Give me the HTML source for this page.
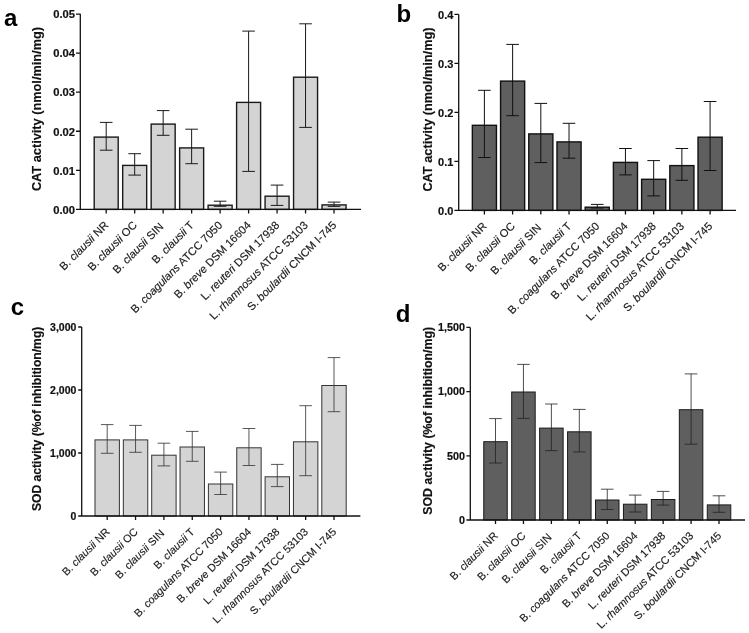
<!DOCTYPE html>
<html><head><meta charset="utf-8"><style>
html,body{margin:0;padding:0;background:#fff;width:749px;height:633px;overflow:hidden}
svg{display:block;filter:grayscale(1)}
text{font-family:"Liberation Sans",sans-serif;fill:#111}
.tk{font-weight:bold;stroke:#111;stroke-width:0.2px}
.xl{fill:#1a1a1a;stroke:#1a1a1a;stroke-width:0.15px}
.tt{font-weight:bold;stroke:#111;stroke-width:0.15px}
.lt{font-weight:bold;fill:#000}
</style></head><body>
<svg width="749" height="633" viewBox="0 0 749 633">
<rect width="749" height="633" fill="#fff"/>
<g><rect x="94.2" y="137.1" width="24" height="72.3" fill="#d4d4d4" stroke="#1a1a1a" stroke-width="1.4"/><rect x="122.68" y="165.4" width="24" height="44" fill="#d4d4d4" stroke="#1a1a1a" stroke-width="1.4"/><rect x="151.16" y="124.1" width="24" height="85.3" fill="#d4d4d4" stroke="#1a1a1a" stroke-width="1.4"/><rect x="179.64" y="147.9" width="24" height="61.5" fill="#d4d4d4" stroke="#1a1a1a" stroke-width="1.4"/><rect x="208.12" y="205.2" width="24" height="4.2" fill="#d4d4d4" stroke="#1a1a1a" stroke-width="1.4"/><rect x="236.6" y="102.4" width="24" height="107" fill="#d4d4d4" stroke="#1a1a1a" stroke-width="1.4"/><rect x="265.08" y="196.2" width="24" height="13.2" fill="#d4d4d4" stroke="#1a1a1a" stroke-width="1.4"/><rect x="293.56" y="77.2" width="24" height="132.2" fill="#d4d4d4" stroke="#1a1a1a" stroke-width="1.4"/><rect x="322.04" y="204.9" width="24" height="4.5" fill="#d4d4d4" stroke="#1a1a1a" stroke-width="1.4"/><path d="M106.2 122.4V150.2M99.9 122.4H112.5M99.9 150.2H112.5" stroke="#1a1a1a" stroke-width="1.0" fill="none"/><path d="M134.68 153.7V175.1M128.38 153.7H140.98M128.38 175.1H140.98" stroke="#1a1a1a" stroke-width="1.0" fill="none"/><path d="M163.16 110.6V135.3M156.86 110.6H169.46M156.86 135.3H169.46" stroke="#1a1a1a" stroke-width="1.0" fill="none"/><path d="M191.64 129.2V163.7M185.34 129.2H197.94M185.34 163.7H197.94" stroke="#1a1a1a" stroke-width="1.0" fill="none"/><path d="M220.12 201.2V206.3M213.82 201.2H226.42M213.82 206.3H226.42" stroke="#1a1a1a" stroke-width="1.0" fill="none"/><path d="M248.6 31.1V171.4M242.3 31.1H254.9M242.3 171.4H254.9" stroke="#1a1a1a" stroke-width="1.0" fill="none"/><path d="M277.08 185.1V205.4M270.78 185.1H283.38M270.78 205.4H283.38" stroke="#1a1a1a" stroke-width="1.0" fill="none"/><path d="M305.56 23.8V127.4M299.26 23.8H311.86M299.26 127.4H311.86" stroke="#1a1a1a" stroke-width="1.0" fill="none"/><path d="M334.04 202.1V206.4M327.74 202.1H340.34M327.74 206.4H340.34" stroke="#1a1a1a" stroke-width="1.0" fill="none"/><path d="M80.3 13.7V209.4M76 209.4H361M76 209.4H80.3M76 170.33H80.3M76 131.26H80.3M76 92.19H80.3M76 53.12H80.3M76 14.05H80.3M106.2 209.4V213.4M134.68 209.4V213.4M163.16 209.4V213.4M191.64 209.4V213.4M220.12 209.4V213.4M248.6 209.4V213.4M277.08 209.4V213.4M305.56 209.4V213.4M334.04 209.4V213.4" stroke="#111" stroke-width="1.3" fill="none"/><text x="75" y="213.7" text-anchor="end" class="tk" font-size="11.2">0.00</text><text x="75" y="174.63" text-anchor="end" class="tk" font-size="11.2">0.01</text><text x="75" y="135.56" text-anchor="end" class="tk" font-size="11.2">0.02</text><text x="75" y="96.49" text-anchor="end" class="tk" font-size="11.2">0.03</text><text x="75" y="57.42" text-anchor="end" class="tk" font-size="11.2">0.04</text><text x="75" y="18.35" text-anchor="end" class="tk" font-size="11.2">0.05</text><text transform="translate(109.2,225.9) rotate(-45)" text-anchor="end" class="xl" font-size="11.15">B. <tspan font-style="italic">clausii</tspan> NR</text><text transform="translate(137.68,225.9) rotate(-45)" text-anchor="end" class="xl" font-size="11.15">B. <tspan font-style="italic">clausii</tspan> OC</text><text transform="translate(164.16,227.4) rotate(-45)" text-anchor="end" class="xl" font-size="11.15">B. <tspan font-style="italic">clausii</tspan> SIN</text><text transform="translate(194.64,225.9) rotate(-45)" text-anchor="end" class="xl" font-size="11.15">B. <tspan font-style="italic">clausii</tspan> T</text><text transform="translate(223.12,225.9) rotate(-45)" text-anchor="end" class="xl" font-size="11.15">B. <tspan font-style="italic">coagulans</tspan> ATCC 7050</text><text transform="translate(251.6,225.9) rotate(-45)" text-anchor="end" class="xl" font-size="11.15">B. <tspan font-style="italic">breve</tspan> DSM 16604</text><text transform="translate(280.08,225.9) rotate(-45)" text-anchor="end" class="xl" font-size="11.15">L. <tspan font-style="italic">reuteri</tspan> DSM 17938</text><text transform="translate(308.56,225.9) rotate(-45)" text-anchor="end" class="xl" font-size="11.15">L. <tspan font-style="italic">rhamnosus</tspan> ATCC 53103</text><text transform="translate(337.04,225.9) rotate(-45)" text-anchor="end" class="xl" font-size="11.15">S. <tspan font-style="italic">boulardii</tspan> CNCM I-745</text><text transform="translate(41,109.05) rotate(-90)" text-anchor="middle" class="tt" font-size="12.75">CAT activity (nmol/min/mg)</text><text x="3.95" y="25.9" class="lt" font-size="24">a</text></g>
<g><rect x="472.35" y="125.3" width="24.1" height="85.1" fill="#5f5f5f" stroke="#111" stroke-width="1.4"/><rect x="500.56" y="81.1" width="24.1" height="129.3" fill="#5f5f5f" stroke="#111" stroke-width="1.4"/><rect x="528.77" y="133.9" width="24.1" height="76.5" fill="#5f5f5f" stroke="#111" stroke-width="1.4"/><rect x="556.98" y="141.9" width="24.1" height="68.5" fill="#5f5f5f" stroke="#111" stroke-width="1.4"/><rect x="585.19" y="207.2" width="24.1" height="3.2" fill="#5f5f5f" stroke="#111" stroke-width="1.4"/><rect x="613.4" y="162.4" width="24.1" height="48" fill="#5f5f5f" stroke="#111" stroke-width="1.4"/><rect x="641.61" y="179.3" width="24.1" height="31.1" fill="#5f5f5f" stroke="#111" stroke-width="1.4"/><rect x="669.82" y="165.6" width="24.1" height="44.8" fill="#5f5f5f" stroke="#111" stroke-width="1.4"/><rect x="698.03" y="137.2" width="24.1" height="73.2" fill="#5f5f5f" stroke="#111" stroke-width="1.4"/><path d="M484.4 90.3V157.5M478.1 90.3H490.7M478.1 157.5H490.7" stroke="#111" stroke-width="1.0" fill="none"/><path d="M512.61 44.4V115.7M506.31 44.4H518.91M506.31 115.7H518.91" stroke="#111" stroke-width="1.0" fill="none"/><path d="M540.82 103.4V162.6M534.52 103.4H547.12M534.52 162.6H547.12" stroke="#111" stroke-width="1.0" fill="none"/><path d="M569.03 123.3V158.2M562.73 123.3H575.33M562.73 158.2H575.33" stroke="#111" stroke-width="1.0" fill="none"/><path d="M597.24 204.4V208M590.94 204.4H603.54M590.94 208H603.54" stroke="#111" stroke-width="1.0" fill="none"/><path d="M625.45 148.5V174.9M619.15 148.5H631.75M619.15 174.9H631.75" stroke="#111" stroke-width="1.0" fill="none"/><path d="M653.66 160.6V195.9M647.36 160.6H659.96M647.36 195.9H659.96" stroke="#111" stroke-width="1.0" fill="none"/><path d="M681.87 148.5V180.3M675.57 148.5H688.17M675.57 180.3H688.17" stroke="#111" stroke-width="1.0" fill="none"/><path d="M710.08 101.5V170.5M703.78 101.5H716.38M703.78 170.5H716.38" stroke="#111" stroke-width="1.0" fill="none"/><path d="M458.7 14.4V210.4M454.4 210.4H736M454.4 210.4H458.7M454.4 161.4H458.7M454.4 112.4H458.7M454.4 63.4H458.7M454.4 14.4H458.7M484.4 210.4V214.4M512.61 210.4V214.4M540.82 210.4V214.4M569.03 210.4V214.4M597.24 210.4V214.4M625.45 210.4V214.4M653.66 210.4V214.4M681.87 210.4V214.4M710.08 210.4V214.4" stroke="#111" stroke-width="1.3" fill="none"/><text x="453.4" y="214.5" text-anchor="end" class="tk" font-size="11">0.0</text><text x="453.4" y="165.5" text-anchor="end" class="tk" font-size="11">0.1</text><text x="453.4" y="116.5" text-anchor="end" class="tk" font-size="11">0.2</text><text x="453.4" y="67.5" text-anchor="end" class="tk" font-size="11">0.3</text><text x="453.4" y="18.5" text-anchor="end" class="tk" font-size="11">0.4</text><text transform="translate(487.4,226.9) rotate(-45)" text-anchor="end" class="xl" font-size="11.15">B. <tspan font-style="italic">clausii</tspan> NR</text><text transform="translate(515.61,226.9) rotate(-45)" text-anchor="end" class="xl" font-size="11.15">B. <tspan font-style="italic">clausii</tspan> OC</text><text transform="translate(541.82,228.4) rotate(-45)" text-anchor="end" class="xl" font-size="11.15">B. <tspan font-style="italic">clausii</tspan> SIN</text><text transform="translate(572.03,226.9) rotate(-45)" text-anchor="end" class="xl" font-size="11.15">B. <tspan font-style="italic">clausii</tspan> T</text><text transform="translate(600.24,226.9) rotate(-45)" text-anchor="end" class="xl" font-size="11.15">B. <tspan font-style="italic">coagulans</tspan> ATCC 7050</text><text transform="translate(628.45,226.9) rotate(-45)" text-anchor="end" class="xl" font-size="11.15">B. <tspan font-style="italic">breve</tspan> DSM 16604</text><text transform="translate(656.66,226.9) rotate(-45)" text-anchor="end" class="xl" font-size="11.15">L. <tspan font-style="italic">reuteri</tspan> DSM 17938</text><text transform="translate(684.87,226.9) rotate(-45)" text-anchor="end" class="xl" font-size="11.15">L. <tspan font-style="italic">rhamnosus</tspan> ATCC 53103</text><text transform="translate(713.08,226.9) rotate(-45)" text-anchor="end" class="xl" font-size="11.15">S. <tspan font-style="italic">boulardii</tspan> CNCM I-745</text><text transform="translate(431.8,109.55) rotate(-90)" text-anchor="middle" class="tt" font-size="12.75">CAT activity (nmol/min/mg)</text><text x="396.5" y="21.9" class="lt" font-size="24">b</text></g>
<g><rect x="95" y="439.9" width="24.4" height="76.1" fill="#d4d4d4" stroke="#333" stroke-width="1.0"/><rect x="123.35" y="439.9" width="24.4" height="76.1" fill="#d4d4d4" stroke="#333" stroke-width="1.0"/><rect x="151.7" y="455.2" width="24.4" height="60.8" fill="#d4d4d4" stroke="#333" stroke-width="1.0"/><rect x="180.05" y="447" width="24.4" height="69" fill="#d4d4d4" stroke="#333" stroke-width="1.0"/><rect x="208.4" y="484" width="24.4" height="32" fill="#d4d4d4" stroke="#333" stroke-width="1.0"/><rect x="236.75" y="447.8" width="24.4" height="68.2" fill="#d4d4d4" stroke="#333" stroke-width="1.0"/><rect x="265.1" y="476.8" width="24.4" height="39.2" fill="#d4d4d4" stroke="#333" stroke-width="1.0"/><rect x="293.45" y="441.8" width="24.4" height="74.2" fill="#d4d4d4" stroke="#333" stroke-width="1.0"/><rect x="321.8" y="385.5" width="24.4" height="130.5" fill="#d4d4d4" stroke="#333" stroke-width="1.0"/><path d="M107.2 424.6V453.3M100.9 424.6H113.5M100.9 453.3H113.5" stroke="#3a3a3a" stroke-width="0.85" fill="none"/><path d="M135.55 425.4V452.3M129.25 425.4H141.85M129.25 452.3H141.85" stroke="#3a3a3a" stroke-width="0.85" fill="none"/><path d="M163.9 443.2V465.9M157.6 443.2H170.2M157.6 465.9H170.2" stroke="#3a3a3a" stroke-width="0.85" fill="none"/><path d="M192.25 431.4V461.3M185.95 431.4H198.55M185.95 461.3H198.55" stroke="#3a3a3a" stroke-width="0.85" fill="none"/><path d="M220.6 472.1V494.5M214.3 472.1H226.9M214.3 494.5H226.9" stroke="#3a3a3a" stroke-width="0.85" fill="none"/><path d="M248.95 428.5V465.5M242.65 428.5H255.25M242.65 465.5H255.25" stroke="#3a3a3a" stroke-width="0.85" fill="none"/><path d="M277.3 464.4V486.6M271 464.4H283.6M271 486.6H283.6" stroke="#3a3a3a" stroke-width="0.85" fill="none"/><path d="M305.65 405.7V475.7M299.35 405.7H311.95M299.35 475.7H311.95" stroke="#3a3a3a" stroke-width="0.85" fill="none"/><path d="M334 357.6V411.7M327.7 357.6H340.3M327.7 411.7H340.3" stroke="#3a3a3a" stroke-width="0.85" fill="none"/><path d="M81.7 327V516M78.2 516H360.4M78.2 516H81.7M78.2 453H81.7M78.2 390H81.7M78.2 327H81.7M107.2 516V520M135.55 516V520M163.9 516V520M192.25 516V520M220.6 516V520M248.95 516V520M277.3 516V520M305.65 516V520M334 516V520" stroke="#111" stroke-width="1.3" fill="none"/><text x="76.4" y="519.9" text-anchor="end" class="tk" font-size="10.5">0</text><text x="76.4" y="456.9" text-anchor="end" class="tk" font-size="10.5">1,000</text><text x="76.4" y="393.9" text-anchor="end" class="tk" font-size="10.5">2,000</text><text x="76.4" y="330.9" text-anchor="end" class="tk" font-size="10.5">3,000</text><text transform="translate(110.2,532.5) rotate(-45)" text-anchor="end" class="xl" font-size="10.8">B. <tspan font-style="italic">clausii</tspan> NR</text><text transform="translate(138.55,532.5) rotate(-45)" text-anchor="end" class="xl" font-size="10.8">B. <tspan font-style="italic">clausii</tspan> OC</text><text transform="translate(164.9,534) rotate(-45)" text-anchor="end" class="xl" font-size="10.8">B. <tspan font-style="italic">clausii</tspan> SIN</text><text transform="translate(195.25,532.5) rotate(-45)" text-anchor="end" class="xl" font-size="10.8">B. <tspan font-style="italic">clausii</tspan> T</text><text transform="translate(223.6,532.5) rotate(-45)" text-anchor="end" class="xl" font-size="10.8">B. <tspan font-style="italic">coagulans</tspan> ATCC 7050</text><text transform="translate(251.95,532.5) rotate(-45)" text-anchor="end" class="xl" font-size="10.8">B. <tspan font-style="italic">breve</tspan> DSM 16604</text><text transform="translate(280.3,532.5) rotate(-45)" text-anchor="end" class="xl" font-size="10.8">L. <tspan font-style="italic">reuteri</tspan> DSM 17938</text><text transform="translate(308.65,532.5) rotate(-45)" text-anchor="end" class="xl" font-size="10.8">L. <tspan font-style="italic">rhamnosus</tspan> ATCC 53103</text><text transform="translate(337,532.5) rotate(-45)" text-anchor="end" class="xl" font-size="10.8">S. <tspan font-style="italic">boulardii</tspan> CNCM I-745</text><text transform="translate(40.7,418.85) rotate(-90)" text-anchor="middle" class="tt" font-size="12.12">SOD activity (%of inhibition/mg)</text><text x="10.75" y="314.8" class="lt" font-size="24">c</text></g>
<g><rect x="483.75" y="441.7" width="23.5" height="78.3" fill="#5f5f5f" stroke="#1a1a1a" stroke-width="1.0"/><rect x="511.69" y="392" width="23.5" height="128" fill="#5f5f5f" stroke="#1a1a1a" stroke-width="1.0"/><rect x="539.63" y="428.1" width="23.5" height="91.9" fill="#5f5f5f" stroke="#1a1a1a" stroke-width="1.0"/><rect x="567.57" y="431.8" width="23.5" height="88.2" fill="#5f5f5f" stroke="#1a1a1a" stroke-width="1.0"/><rect x="595.51" y="500" width="23.5" height="20" fill="#5f5f5f" stroke="#1a1a1a" stroke-width="1.0"/><rect x="623.45" y="504.2" width="23.5" height="15.8" fill="#5f5f5f" stroke="#1a1a1a" stroke-width="1.0"/><rect x="651.39" y="499.5" width="23.5" height="20.5" fill="#5f5f5f" stroke="#1a1a1a" stroke-width="1.0"/><rect x="679.33" y="409.7" width="23.5" height="110.3" fill="#5f5f5f" stroke="#1a1a1a" stroke-width="1.0"/><rect x="707.27" y="504.9" width="23.5" height="15.1" fill="#5f5f5f" stroke="#1a1a1a" stroke-width="1.0"/><path d="M495.5 418.6V463M489.2 418.6H501.8M489.2 463H501.8" stroke="#222" stroke-width="0.8" fill="none"/><path d="M523.44 364.4V418.4M517.14 364.4H529.74M517.14 418.4H529.74" stroke="#222" stroke-width="0.8" fill="none"/><path d="M551.38 404V450.6M545.08 404H557.68M545.08 450.6H557.68" stroke="#222" stroke-width="0.8" fill="none"/><path d="M579.32 409.4V451.9M573.02 409.4H585.62M573.02 451.9H585.62" stroke="#222" stroke-width="0.8" fill="none"/><path d="M607.26 489.2V509.5M600.96 489.2H613.56M600.96 509.5H613.56" stroke="#222" stroke-width="0.8" fill="none"/><path d="M635.2 495.1V512M628.9 495.1H641.5M628.9 512H641.5" stroke="#222" stroke-width="0.8" fill="none"/><path d="M663.14 491.4V505.1M656.84 491.4H669.44M656.84 505.1H669.44" stroke="#222" stroke-width="0.8" fill="none"/><path d="M691.08 373.9V444.2M684.78 373.9H697.38M684.78 444.2H697.38" stroke="#222" stroke-width="0.8" fill="none"/><path d="M719.02 495.8V512.3M712.72 495.8H725.32M712.72 512.3H725.32" stroke="#222" stroke-width="0.8" fill="none"/><path d="M470.3 327.4V520M466.4 520H745M466.4 520H470.3M466.4 455.8H470.3M466.4 391.6H470.3M466.4 327.4H470.3M495.5 520V524M523.44 520V524M551.38 520V524M579.32 520V524M607.26 520V524M635.2 520V524M663.14 520V524M691.08 520V524M719.02 520V524" stroke="#111" stroke-width="1.3" fill="none"/><text x="465" y="523.7" text-anchor="end" class="tk" font-size="10.75">0</text><text x="465" y="459.5" text-anchor="end" class="tk" font-size="10.75">500</text><text x="465" y="395.3" text-anchor="end" class="tk" font-size="10.75">1,000</text><text x="465" y="331.1" text-anchor="end" class="tk" font-size="10.75">1,500</text><text transform="translate(498.5,536.5) rotate(-45)" text-anchor="end" class="xl" font-size="10.95">B. <tspan font-style="italic">clausii</tspan> NR</text><text transform="translate(526.44,536.5) rotate(-45)" text-anchor="end" class="xl" font-size="10.95">B. <tspan font-style="italic">clausii</tspan> OC</text><text transform="translate(552.38,538) rotate(-45)" text-anchor="end" class="xl" font-size="10.95">B. <tspan font-style="italic">clausii</tspan> SIN</text><text transform="translate(582.32,536.5) rotate(-45)" text-anchor="end" class="xl" font-size="10.95">B. <tspan font-style="italic">clausii</tspan> T</text><text transform="translate(610.26,536.5) rotate(-45)" text-anchor="end" class="xl" font-size="10.95">B. <tspan font-style="italic">coagulans</tspan> ATCC 7050</text><text transform="translate(638.2,536.5) rotate(-45)" text-anchor="end" class="xl" font-size="10.95">B. <tspan font-style="italic">breve</tspan> DSM 16604</text><text transform="translate(666.14,536.5) rotate(-45)" text-anchor="end" class="xl" font-size="10.95">L. <tspan font-style="italic">reuteri</tspan> DSM 17938</text><text transform="translate(694.08,536.5) rotate(-45)" text-anchor="end" class="xl" font-size="10.95">L. <tspan font-style="italic">rhamnosus</tspan> ATCC 53103</text><text transform="translate(722.02,536.5) rotate(-45)" text-anchor="end" class="xl" font-size="10.95">S. <tspan font-style="italic">boulardii</tspan> CNCM I-745</text><text transform="translate(432.3,420.8) rotate(-90)" text-anchor="middle" class="tt" font-size="12.35">SOD activity (%of inhibition/mg)</text><text x="395.8" y="322" class="lt" font-size="24">d</text></g>
</svg>
</body></html>
